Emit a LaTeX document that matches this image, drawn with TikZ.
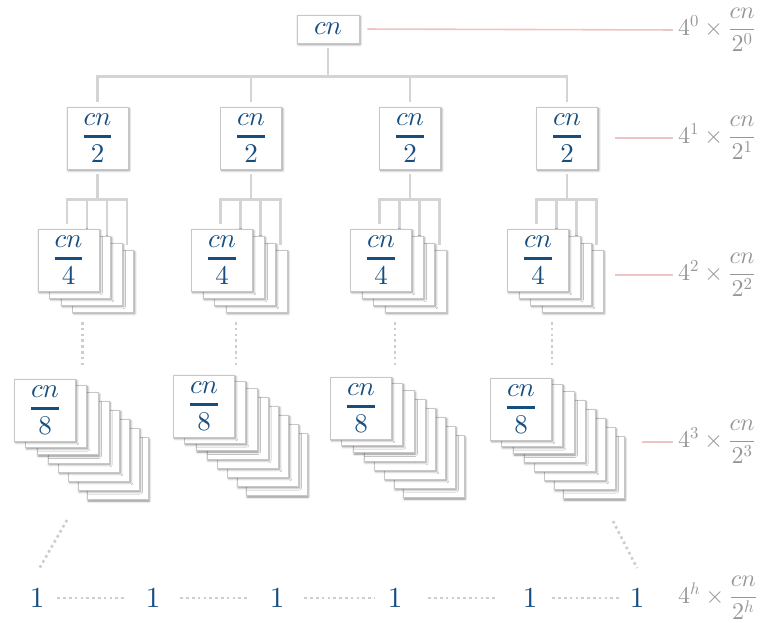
\documentclass[tikz,border=0pt]{standalone}
\usepackage{amsmath}
\usetikzlibrary{shadows.blur}

% make the Computer Modern math fonts scale to any size
\DeclareFontShape{OML}{cmm}{m}{it}{<->cmmi10}{}
\DeclareFontShape{OT1}{cmr}{m}{n}{<->cmr10}{}
\DeclareFontShape{OMS}{cmsy}{m}{n}{<->cmsy10}{}
\DeclareFontShape{OMX}{cmex}{m}{n}{<->cmex10}{}

\definecolor{inkblue}{RGB}{22,78,128}
\definecolor{edgegray}{RGB}{212,212,212}
\definecolor{dotgray}{RGB}{205,205,205}
\definecolor{rose}{RGB}{240,196,196}
\definecolor{labelgray}{RGB}{150,150,150}

\pgfdeclarelayer{bg}
\pgfsetlayers{bg,main}

% fraction cn/k with a heavy bar, as set on the cards
\newcommand{\cnfrac}[1]{\genfrac{}{}{2.4pt}{0}{cn}{#1}}

\begin{document}
\begin{tikzpicture}[x=1pt,y=-1pt,
  card/.style={draw=black!22, line width=0.6pt, fill=white,
    minimum width=61pt, minimum height=62pt, inner sep=0pt,
    text=inkblue, font=\fontsize{27}{30}\selectfont,
    blur shadow={shadow xshift=1.2pt, shadow yshift=-1.6pt,
      shadow blur radius=2.2pt, shadow opacity=45}},
  rootcard/.style={card, minimum width=62pt, minimum height=28pt},
  link/.style={draw=edgegray, line width=2.5pt, shorten <=5pt, shorten >=5pt},
  dots/.style={draw=dotgray, line width=2.6pt, dash pattern=on 2.6pt off 3.2pt},
  guide/.style={draw=rose, line width=1.6pt},
  tally/.style={text=labelgray, font=\fontsize{24}{28}\selectfont,
    anchor=west, inner sep=0pt},
  leaf/.style={text=inkblue, font=\fontsize{29}{32}\selectfont, inner sep=0pt}]

\useasboundingbox (0,0) rectangle (773,623);

% level 0
\node[rootcard] (r) at (328,29) {$cn$};

% level 1
\foreach \i/\px in {1/97.5, 2/251, 3/410, 4/567}
  \node[card] (a\i) at (\px,138) {$\cnfrac{2}$};

% level 2: stacks of four cards
\foreach \i/\px in {1/97.5, 2/251, 3/410, 4/567} {
  \foreach \j in {3,2,1}
    \node[card] (b\i\j) at ({\px-29+11.5*\j},{260+7*\j}) {};
  \node[card] (b\i0) at ({\px-29},260) {$\cnfrac{4}$};
}

% level 3: stacks of eight cards
\foreach \i/\cx/\cy in {1/45/410, 2/204/406, 3/361/408, 4/521/409} {
  \foreach \j/\dx/\dy in {7/72.5/58.5, 6/63.5/49.3, 5/54/40, 4/44/31,
                          3/33.3/22, 2/22.5/13.5, 1/11/6.3}
    \node[card] (c\i\j) at ({\cx+\dx},{\cy+\dy}) {};
  \node[card] (c\i0) at (\cx,\cy) {$\cnfrac{8}$};
}

% leaves
\foreach \k/\lx in {1/37, 2/153, 3/277, 4/395, 5/530, 6/637}
  \node[leaf] (l\k) at (\lx,598) {$1$};

% per-level totals
\node[tally] (t0) at (678,30)  {$4^{0}\times\dfrac{cn}{2^{0}}$};
\node[tally] (t1) at (678,138) {$4^{1}\times\dfrac{cn}{2^{1}}$};
\node[tally] (t2) at (678,275) {$4^{2}\times\dfrac{cn}{2^{2}}$};
\node[tally] (t3) at (678,442) {$4^{3}\times\dfrac{cn}{2^{3}}$};
\node[tally] (t4) at (678,598) {$4^{h}\times\dfrac{cn}{2^{h}}$};

% tree edges, behind the cards
\begin{pgfonlayer}{bg}
  \foreach \i in {1,...,4}
    \draw[link] (r.south) -- ++(0,33) -| (a\i.north);
  \foreach \i in {1,...,4}
    \foreach \j in {0,...,3}
      \draw[link] (a\i.south) -- ++(0,30)
        -| ([xshift={(29.5+8.5*\j)*1pt}]b\i\j.north west);
\end{pgfonlayer}

% elided levels
\foreach \i/\px in {1/97.5, 2/251, 3/410, 4/567} {
  \coordinate (v\i a) at ({\px-15},322);
  \coordinate (v\i b) at ({\px-15},366);
  \draw[dots] (v\i a) -- (v\i b);
}
\coordinate (dla) at (67,520);
\coordinate (dlb) at (39,569);
\coordinate (dra) at (613,521);
\coordinate (drb) at (637,568);
\draw[dots] (dla) -- (dlb);
\draw[dots] (dra) -- (drb);

\draw[dots, shorten <=13pt, shorten >=19pt] (l1) -- (l2);
\draw[dots, shorten <=20pt, shorten >=20pt] (l2) -- (l3);
\draw[dots, shorten <=20pt, shorten >=13pt] (l3) -- (l4);
\draw[dots, shorten <=26pt, shorten >=25pt] (l4) -- (l5);
\draw[dots, shorten <=15pt, shorten >=8pt]  (l5) -- (l6);

% guides to the totals
\coordinate (g1) at (615,138);
\coordinate (g2) at (615,275);
\coordinate (g3) at (642,442);
\draw[guide, shorten <=8pt, shorten >=5pt] (r.east) -- (t0.west);
\draw[guide, shorten >=5pt] (g1) -- (t1.west);
\draw[guide, shorten >=5pt] (g2) -- (t2.west);
\draw[guide, shorten >=5pt] (g3) -- (t3.west);

\end{tikzpicture}
\end{document}
